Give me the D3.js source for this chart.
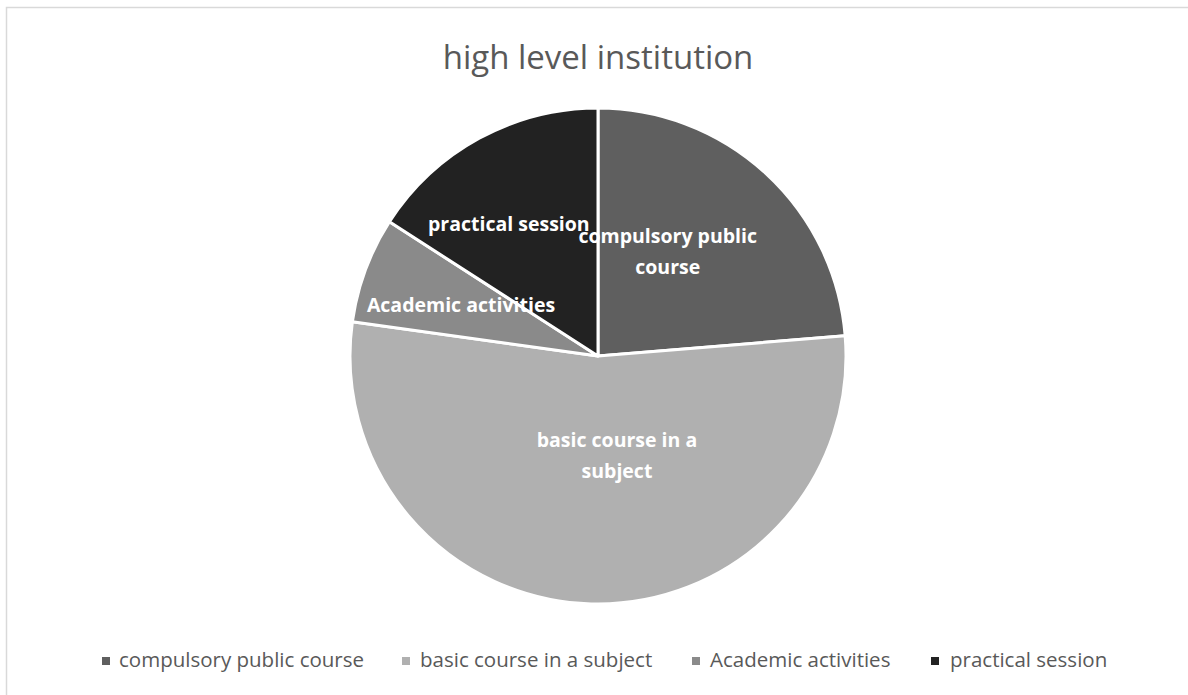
<!DOCTYPE html>
<html>
<head>
<meta charset="utf-8">
<script src="https://cdn.jsdelivr.net/npm/d3@7/dist/d3.min.js"></script>
<style>
  html, body { margin: 0; padding: 0; background: #fff; }
  svg { display: block; }
</style>
</head>
<body>
<svg id="chart" width="1188" height="695"></svg>
<script>
// Share of course types at a high level institution (percent)
const categories = ["compulsory public course", "basic course in a subject", "Academic activities", "practical session"];
const shares = [23.7, 53.5, 6.9, 15.9];
const labelLines = [["compulsory public", "course"], ["basic course in a", "subject"], ["Academic activities"], ["practical session"]];
const colors = ["#5f5f5f", "#b0b0b0", "#8a8a8a", "#222222"];
const chartTitle = "high level institution";

const width = 1188, height = 695;
const cx = 598, cy = 356, radius = 248;
const FONT = "'Open Sans', 'DejaVu Sans', sans-serif";

const svg = d3.select("#chart");

// chart frame
svg.append("rect")
  .attr("x", 6.5).attr("y", 7.5)
  .attr("width", 1200).attr("height", 700)
  .attr("fill", "#fff")
  .attr("stroke", "#d9d9d9").attr("stroke-width", 1.5);

// title
svg.append("text")
  .attr("x", cx).attr("y", 69)
  .attr("text-anchor", "middle")
  .attr("font-family", FONT)
  .attr("font-size", 33)
  .attr("fill", "#595959")
  .text(chartTitle);

const data = categories.map((c, i) => ({ name: c, value: shares[i], lines: labelLines[i], color: colors[i] }));

const pie = d3.pie().value(d => d.value).sort(null).startAngle(0).endAngle(2 * Math.PI);
const arcs = pie(data);
const arc = d3.arc().innerRadius(0).outerRadius(radius);

const g = svg.append("g").attr("transform", `translate(${cx},${cy})`);

g.selectAll("path.slice")
  .data(arcs)
  .join("path")
  .attr("class", "slice")
  .attr("d", arc)
  .attr("fill", d => d.data.color)
  .attr("stroke", "#fff")
  .attr("stroke-width", 3)
  .attr("stroke-linejoin", "round");

// data label anchors: angle (degrees clockwise from 12 o'clock) and distance from the centre
const labelPlacement = [
  { angle: 33.9, dist: 125 },
  { angle: 169.3, dist: 102 },
  { angle: 290.2, dist: 146 },
  { angle: 325.9, dist: 159 }
];
const lineHeight = 31;
const labelOrder = [3, 2, 1, 0];

labelOrder.forEach(i => {
  const d = data[i];
  const p = labelPlacement[i];
  const a = p.angle * Math.PI / 180;
  const x = Math.sin(a) * p.dist;
  const y = -Math.cos(a) * p.dist;
  const n = d.lines.length;
  const t = g.append("text")
    .attr("text-anchor", "middle")
    .attr("font-family", FONT)
    .attr("font-weight", "bold")
    .attr("font-size", 19.5)
    .attr("fill", "#fff");
  d.lines.forEach((line, k) => {
    t.append("tspan")
      .attr("x", x)
      .attr("y", y + (k - (n - 1) / 2) * lineHeight + 6.5)
      .text(line);
  });
});

// legend
const legendItems = [
  { sq: 102, tx: 119 },
  { sq: 402, tx: 420 },
  { sq: 692, tx: 710 },
  { sq: 931, tx: 950 }
];
const legendY = 667;
const lg = svg.append("g");
data.forEach((d, i) => {
  lg.append("rect")
    .attr("x", legendItems[i].sq).attr("y", legendY - 10)
    .attr("width", 8).attr("height", 8)
    .attr("fill", d.color);
  lg.append("text")
    .attr("x", legendItems[i].tx).attr("y", legendY)
    .attr("font-family", FONT)
    .attr("font-size", 20.5)
    .attr("fill", "#595959")
    .text(d.name);
});
</script>
</body>
</html>
